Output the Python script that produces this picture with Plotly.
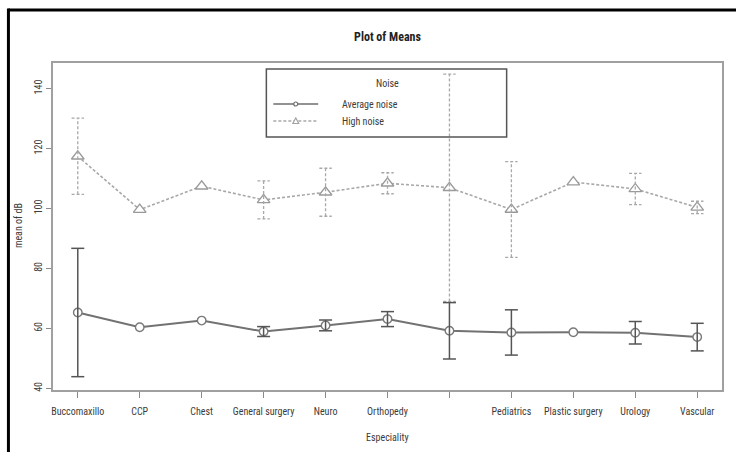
import plotly.graph_objects as go

# Categories along the x axis (the 7th label is left blank on the axis)
especiality = ["Buccomaxillo", "CCP", "Chest", "General surgery", "Neuro",
               "Orthopedy", "", "Pediatrics", "Plastic surgery", "Urology", "Vascular"]

# Mean noise level (dB) per speciality and the half-width of its error bar
avg_mean = [65.3, 60.4, 62.6, 58.95, 61.0, 63.1, 59.2, 58.65, 58.7, 58.55, 57.1]
avg_err = [21.4, 0, 0, 1.65, 1.8, 2.5, 9.4, 7.55, 0, 3.75, 4.6]

high_mean = [117.4, 99.6, 107.4, 102.85, 105.4, 108.4, 106.9, 99.65, 108.8, 106.5, 100.35]
high_err = [12.7, 0, 0, 6.35, 8.0, 3.5, 37.9, 15.95, 0, 5.2, 2.05]

y_ticks = [40, 60, 80, 100, 120, 140]

FONT = "Roboto Condensed, Liberation Sans Narrow, Arial Narrow, sans-serif"
TXT = "#3c3c3c"

W, H = 736, 452
L, R, T, B = 53, 12, 63, 62
PW, PH = W - L - R, H - T - B


def px_x(px):
    return (px - L) / PW


def px_y(py):
    return (H - B - py) / PH


xs = list(range(1, len(especiality) + 1))


def error_segments(x, mean, err, cap):
    """Vertical bars plus end caps, as one polyline broken by None."""
    sx, sy = [], []
    for xi, m, e in zip(x, mean, err):
        if not e:
            continue
        sx += [xi, xi, None, xi - cap, xi + cap, None, xi - cap, xi + cap, None]
        sy += [m - e, m + e, None, m + e, m + e, None, m - e, m - e, None]
    return sx, sy


fig = go.Figure()

# High noise: dotted light-grey line with open triangles
fig.add_trace(go.Scatter(
    x=xs, y=high_mean, mode="lines",
    line=dict(color="#a8a8a8", width=1.6, dash="3px,2px"),
    showlegend=False, hoverinfo="skip"))
fig.add_trace(go.Scatter(
    x=xs, y=high_mean, mode="markers",
    marker=dict(symbol="triangle-up", size=11, color="white",
                line=dict(color="#9a9a9a", width=1.3)),
    showlegend=False))

# Average noise: solid grey line with open circles
fig.add_trace(go.Scatter(
    x=xs, y=avg_mean, mode="lines",
    line=dict(color="#727272", width=2),
    showlegend=False, hoverinfo="skip"))
fig.add_trace(go.Scatter(
    x=xs, y=avg_mean, mode="markers",
    marker=dict(symbol="circle", size=8.5, color="white",
                line=dict(color="#7a7a7a", width=1.4)),
    showlegend=False))

# Error bars
hx, hy = error_segments(xs, high_mean, high_err, 0.1)
fig.add_trace(go.Scatter(
    x=hx, y=hy, mode="lines",
    line=dict(color="#a8a8a8", width=1.3, dash="3px,2px"),
    showlegend=False, hoverinfo="skip"))
ax, ay = error_segments(xs, avg_mean, avg_err, 0.105)
fig.add_trace(go.Scatter(
    x=ax, y=ay, mode="lines",
    line=dict(color="#555555", width=1.5),
    showlegend=False, hoverinfo="skip"))

shapes = [
    # outer black frame (top and left edges)
    dict(type="line", xref="paper", yref="paper",
         x0=px_x(8.3), x1=px_x(740), y0=px_y(10), y1=px_y(10),
         line=dict(color="black", width=3)),
    dict(type="line", xref="paper", yref="paper",
         x0=px_x(8.3), x1=px_x(8.3), y0=px_y(8.5), y1=px_y(460),
         line=dict(color="black", width=3)),
    # legend box
    dict(type="rect", xref="paper", yref="paper",
         x0=px_x(267), x1=px_x(508), y0=px_y(137), y1=px_y(69),
         line=dict(color="#555555", width=1.5)),
    # legend samples
    dict(type="line", xref="paper", yref="paper",
         x0=px_x(274), x1=px_x(319), y0=px_y(104), y1=px_y(104),
         line=dict(color="#6e6e6e", width=1.6)),
    dict(type="circle", xref="paper", yref="paper",
         x0=px_x(294.5), x1=px_x(298.5), y0=px_y(106), y1=px_y(102),
         fillcolor="white", line=dict(color="#6e6e6e", width=1.2)),
    dict(type="line", xref="paper", yref="paper",
         x0=px_x(274), x1=px_x(319), y0=px_y(121), y1=px_y(121),
         line=dict(color="#a8a8a8", width=1.3, dash="3px,2px")),
    dict(type="path", xref="paper", yref="paper",
         path=f"M {px_x(293.5)} {px_y(123.5)} L {px_x(299.5)} {px_y(123.5)} "
              f"L {px_x(296.5)} {px_y(118)} Z",
         fillcolor="white", line=dict(color="#a0a0a0", width=1.1)),
]


def label(text, x, y, **kw):
    d = dict(text=text, x=x, y=y, xref="paper", yref="paper",
             xanchor="center", yanchor="middle", showarrow=False,
             font=dict(family=FONT, size=10, color=TXT))
    d.update(kw)
    return d


annotations = [
    label("Noise", px_x(388), px_y(83)),
    label("Average noise", px_x(341), px_y(104), xanchor="left"),
    label("High noise", px_x(341), px_y(121), xanchor="left"),
    label("Especiality", 0.5, px_y(437)),
    label("mean of dB", px_x(18), px_y(226), textangle=-90),
]

fig.update_layout(
    width=W, height=H,
    margin=dict(l=L, r=R, t=T, b=B),
    paper_bgcolor="white", plot_bgcolor="white",
    title=dict(text="<b>Plot of Means</b>", x=0.5, xref="paper",
               y=1 - 37 / H, yanchor="middle",
               font=dict(family=FONT, size=12, color="#222222")),
    shapes=shapes,
    annotations=annotations,
    showlegend=False,
)

fig.update_xaxes(
    range=[0.6, 11.4], tickmode="array", tickvals=xs, ticktext=especiality,
    showgrid=False, zeroline=False,
    showline=True, mirror=True, linecolor="#a0a0a0", linewidth=1.6,
    ticks="outside", ticklen=6, tickcolor="#8a8a8a", tickwidth=1,
    ticklabelstandoff=5,
    tickfont=dict(family=FONT, size=10, color=TXT),
)
fig.update_yaxes(
    range=[39.46, 148.5], tickmode="array", tickvals=y_ticks,
    showgrid=False, zeroline=False,
    showline=True, mirror=True, linecolor="#a0a0a0", linewidth=1.6,
    ticks="outside", ticklen=5, tickcolor="#8a8a8a", tickwidth=1,
    tickangle=-90, ticklabelstandoff=0,
    tickfont=dict(family=FONT, size=10, color=TXT),
)

fig.write_html("out.html")
